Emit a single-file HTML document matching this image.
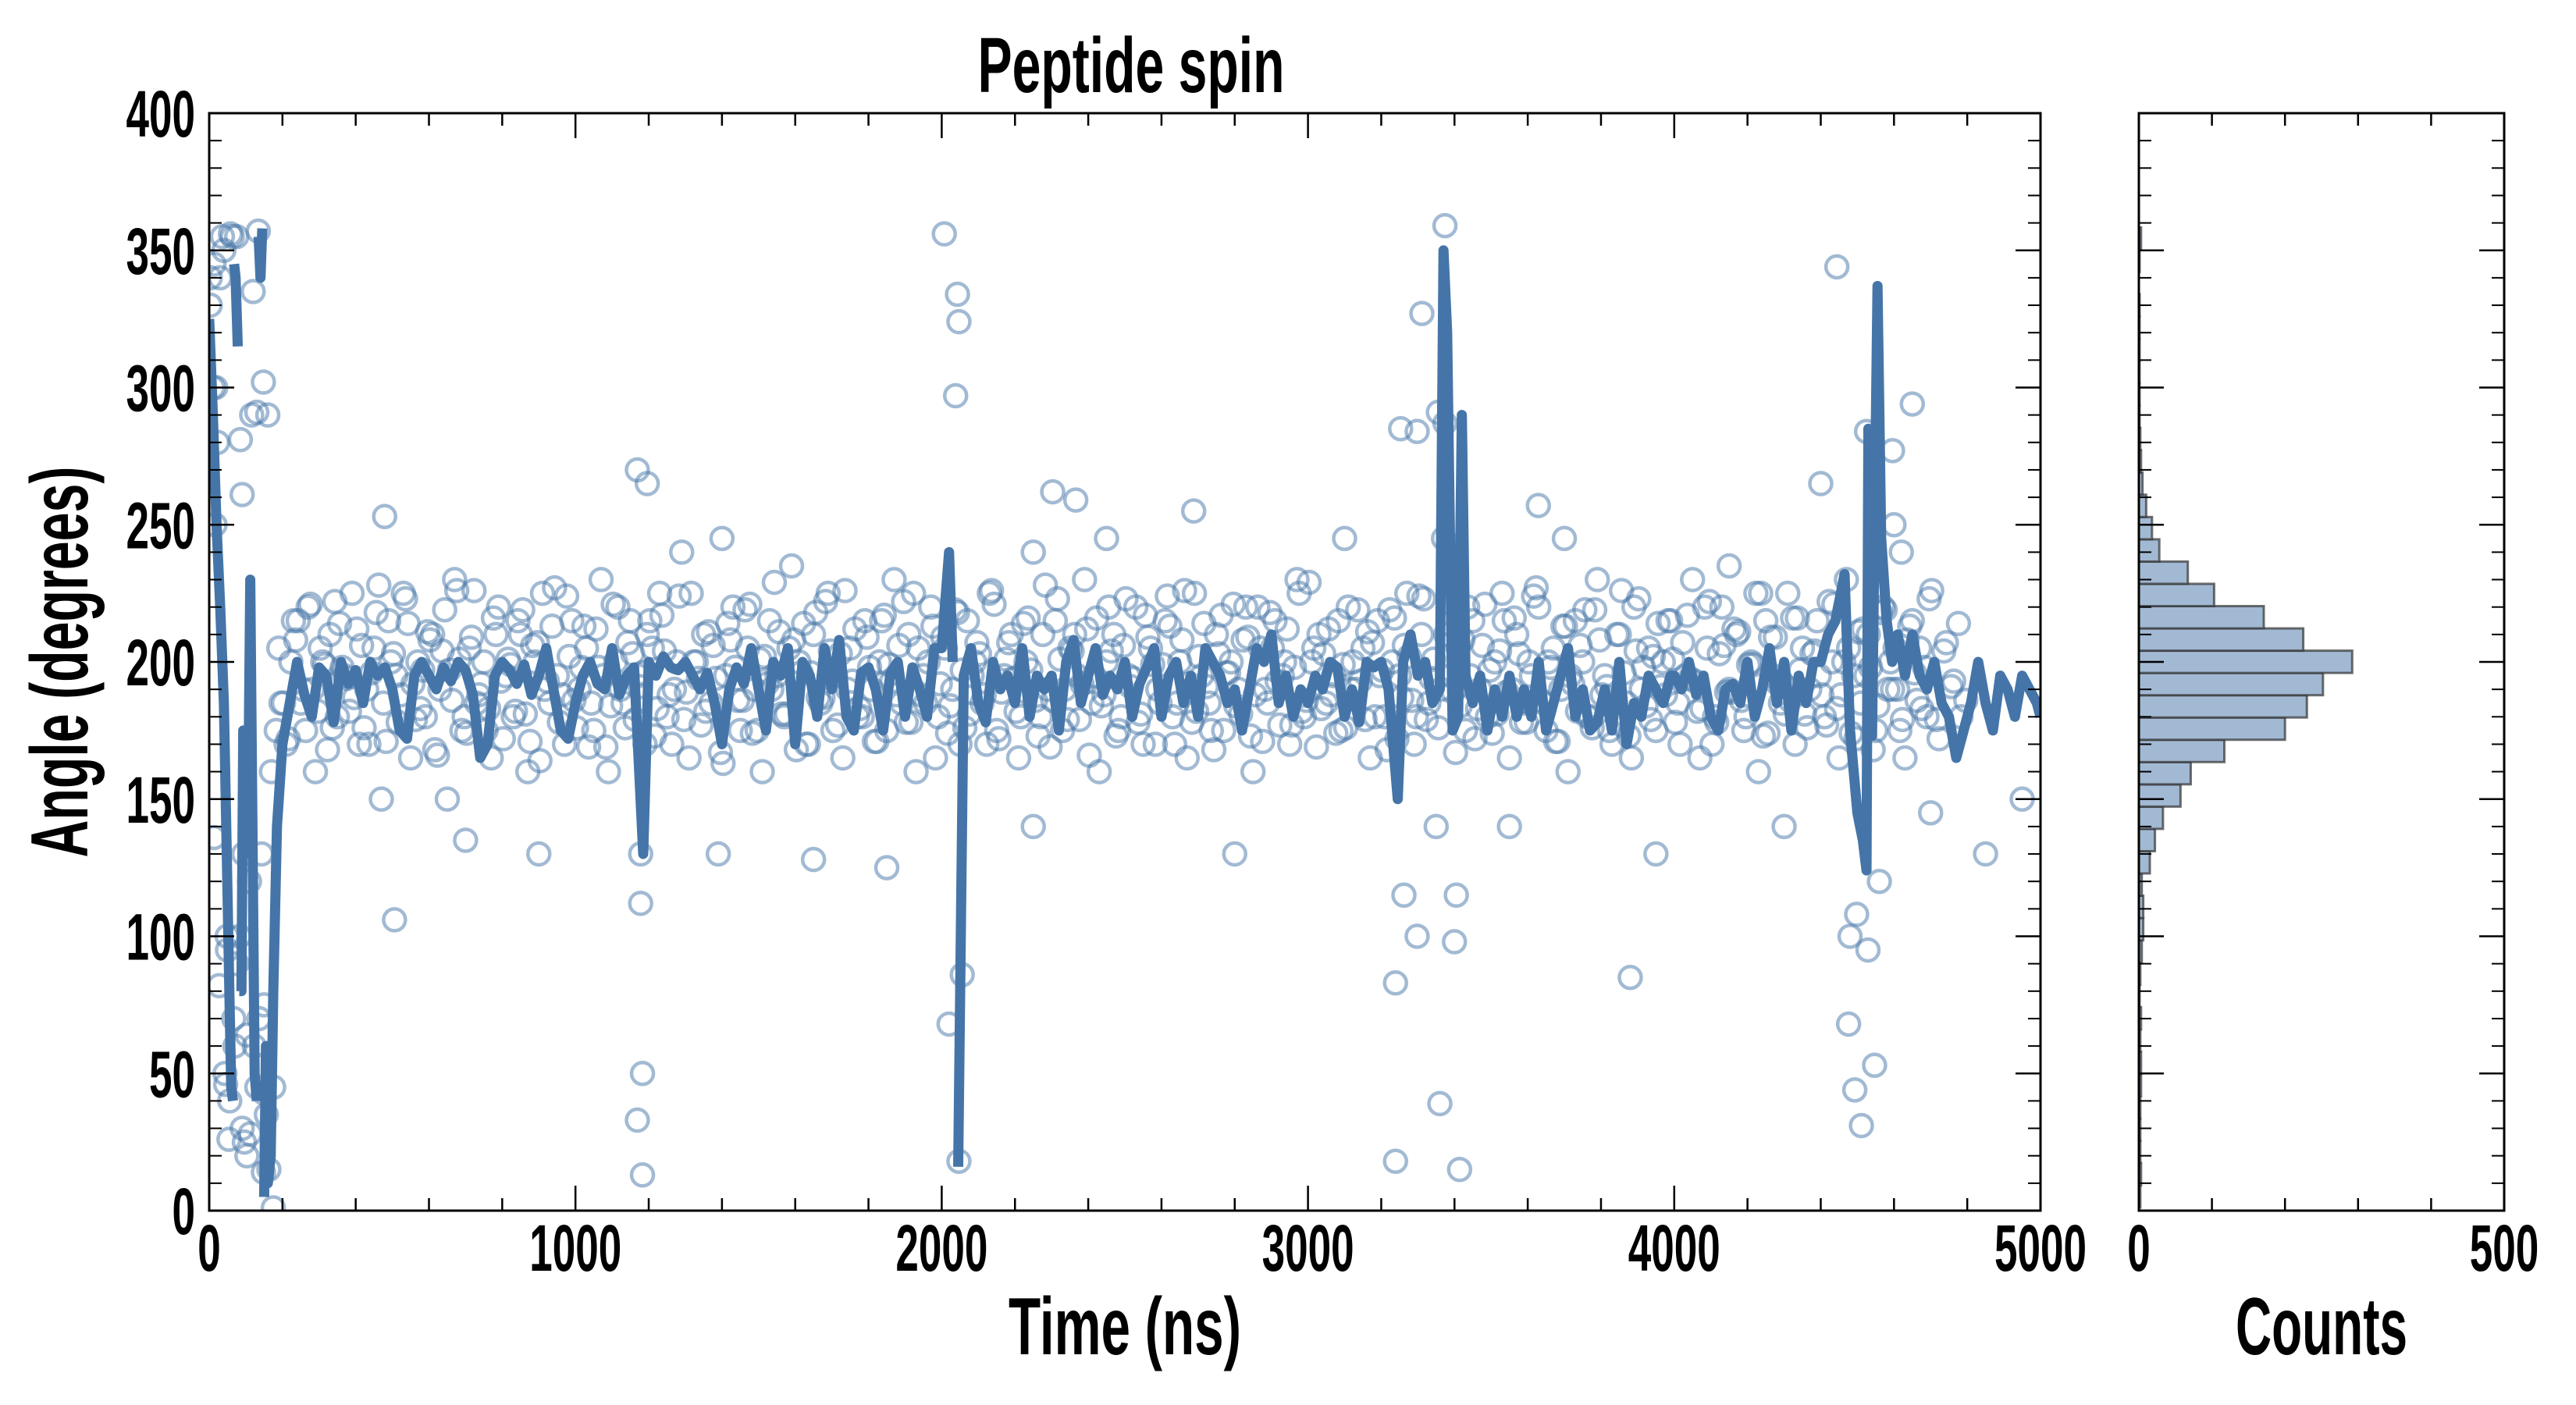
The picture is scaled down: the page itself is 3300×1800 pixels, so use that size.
<!DOCTYPE html>
<html><head><meta charset="utf-8"><style>
html,body{margin:0;padding:0;background:#fff;}
svg{display:block;}
text{font-family:"Liberation Sans Narrow","Liberation Sans",sans-serif;font-weight:bold;fill:#000;}
</style></head><body>
<svg id="chart" width="3300" height="1800" viewBox="0 0 3300 1800" xmlns="http://www.w3.org/2000/svg">
<rect width="3300" height="1800" fill="#fff"/>
<g id="main-marks"></g>
<g id="hist-marks"></g>
<g id="axes"></g>
<text x="1449" y="118" font-size="100" text-anchor="middle" textLength="393" lengthAdjust="spacingAndGlyphs">Peptide spin</text>
<text x="1441" y="1735" font-size="104" text-anchor="middle" textLength="298" lengthAdjust="spacingAndGlyphs">Time (ns)</text>
<text x="2974" y="1735" font-size="104" text-anchor="middle" textLength="220" lengthAdjust="spacingAndGlyphs">Counts</text>
<text transform="translate(112,848) rotate(-90)" x="0" y="0" font-size="104" text-anchor="middle" textLength="501" lengthAdjust="spacingAndGlyphs">Angle (degrees)</text>
</svg>
<script>
// ---- data ----
const linePoints = [[0,325],[10,290],[20,250],[30,220],[40,185],[48,130],[55,80],[60,45],[65,40],[68,345],[72,340],[78,315],[82,80],[88,80],[93,175],[100,130],[106,140],[112,230],[118,140],[124,50],[130,40],[135,355],[140,340],[145,358],[150,5],[155,60],[160,10],[168,20],[175,80],[185,140],[200,170],
[220,185],[240,200],[260,188],[280,180],[300,198],[320,195],[340,178],[360,200],[380,192],
[400,197],[420,185],[440,200],[460,195],[480,198],[500,190],[520,175],[540,172],[560,195],[580,200],
[600,195],[620,190],[640,198],[660,193],[680,200],[700,197],[720,188],[740,165],[760,170],[780,195],
[800,200],[820,197],[840,192],[860,199],[880,188],[900,195],[920,205],[940,190],[960,175],[980,172],
[1000,185],[1020,195],[1040,200],[1060,192],[1080,190],[1100,205],[1120,188],[1140,195],[1160,198],[1185,130],
[1200,200],[1220,195],[1240,202],[1260,198],[1280,197],[1300,200],[1320,195],[1340,190],[1360,196],[1380,185],
[1400,170],[1420,190],[1440,198],[1460,192],[1480,205],[1500,190],[1520,175],[1540,200],[1560,195],[1580,205],
[1600,170],[1620,200],[1640,195],[1660,180],[1680,205],[1700,190],[1720,208],[1740,180],[1760,175],[1780,196],
[1800,198],[1820,190],[1840,175],[1860,196],[1880,200],[1900,180],[1920,198],[1940,190],[1960,180],[1980,205],
[2000,205],[2020,240],[2030,200],[2045,16],[2060,195],[2080,205],[2100,185],[2120,178],[2140,200],[2160,190],[2180,195],
[2200,185],[2220,205],[2240,180],[2260,195],[2280,190],[2300,195],[2320,175],[2340,200],[2360,208],[2380,185],
[2400,195],[2420,205],[2440,188],[2460,195],[2480,190],[2500,200],[2520,180],[2540,192],[2560,198],[2580,205],
[2600,180],[2620,195],[2640,200],[2660,185],[2680,195],[2700,180],[2720,205],[2740,200],[2760,195],[2780,185],
[2800,190],[2820,175],[2840,190],[2860,205],[2880,200],[2900,210],[2920,185],[2940,195],[2960,180],[2980,190],
[3000,185],[3020,195],[3040,190],[3060,200],[3080,198],[3100,180],[3120,190],[3140,178],[3160,200],[3180,198],
[3200,200],[3220,190],[3245,150],[3260,200],[3280,210],[3300,195],[3320,200],[3340,185],[3360,190],[3370,350],[3380,320],[3395,175],[3410,180],[3420,290],[3430,195],[3450,185],[3470,195],[3490,175],
[3510,190],[3530,180],[3550,195],[3570,180],[3590,190],[3610,180],[3630,200],[3650,175],[3670,185],[3690,195],[3710,205],[3730,180],[3750,190],[3770,175],[3790,178],[3810,190],[3830,175],[3850,200],[3870,170],[3890,185],[3910,180],[3930,195],[3950,190],[3970,185],[3990,195],
[4000,195],[4020,190],[4040,200],[4060,188],[4080,195],[4100,180],[4120,175],[4140,190],[4160,192],[4180,185],
[4200,200],[4220,180],[4240,190],[4260,205],[4280,185],[4300,200],[4320,175],[4340,195],[4360,185],[4380,200],
[4400,200],[4420,210],[4440,215],[4465,232],[4480,175],[4500,145],[4515,135],[4525,124],[4530,285],[4540,173],[4555,337],[4565,245],[4580,215],[4595,200],[4610,210],[4630,195],[4650,210],[4670,195],[4690,190],[4710,200],[4730,185],[4750,180],[4770,165],[4790,175],[4810,185],[4830,200],[4850,185],[4870,175],[4890,195],[4910,190],[4930,180],[4950,195],[4970,190],[4990,185],[5000,180]];

const scatterStep = 20;
const scatterStart = 10;
const scatterValues = [
300,340,95,60,30,120,45,75,160,205,170,215,185,220,160,200,210,180,195,225,170,190,205,150,215,
195,225,165,200,180,210,190,150,230,175,205,185,200,165,220,195,180,210,160,200,225,185,195,170,215,
190,205,175,230,160,200,185,215,195,170,205,225,180,190,240,165,200,210,185,130,195,220,175,205,190,
160,215,195,180,235,200,170,210,185,225,195,165,205,180,215,190,200,175,230,185,210,160,195,220,180,
205,190,170,215,200,185,225,175,195,210,165,200,240,180,190,215,175,205,195,230,185,160,200,210,180,
195,220,170,205,190,215,180,200,165,225,195,185,210,175,200,190,220,160,205,185,215,195,170,230,180,
200,210,185,195,175,220,190,205,165,215,180,200,195,225,170,210,185,140,245,195,205,175,215,190,180,
200,225,165,210,185,195,220,175,205,190,160,215,200,180,230,195,170,210,185,220,190,205,175,200,215,
185,195,230,165,205,180,220,190,210,175,200,160,215,195,185,225,170,205,190,215,180,200,165,230,195,
185,210,175,220,200,190,165,215,205,180
];
const scatterStart2 = 3;
const scatterValues2 = [
340,280,50,355,100,20,60,130,15,175,185,200,215,175,190,205,168,222,198,182,
212,176,196,228,171,203,188,214,179,197,208,166,219,186,201,174,226,192,183,210,
172,199,215,181,206,164,193,227,188,202,176,213,185,198,169,221,190,207,179,196,
215,183,204,170,224,189,200,177,211,194,163,208,186,219,174,201,192,229,181,205,
168,214,196,187,222,175,203,190,212,180,198,171,217,193,206,178,225,188,200,165,
209,184,218,176,195,203,170,221,189,207,182,214,197,173,228,186,201,179,210,192,
166,216,188,204,175,223,194,181,209,170,199,213,185,226,178,202,191,168,217,196,
184,208,173,220,190,205,177,212,198,182,229,169,203,188,215,176,200,193,211,180,
197,219,172,206,186,224,179,201,190,214,167,208,195,183,221,174,204,189,216,178,
200,227,185,198,171,213,192,206,180,219,188,175,210,196,165,223,184,202,191,215,
178,207,194,182,220,170,203,189,212,186,199,225,173,209,192,181,216,197,176,204,
188,222,183,200,174,211,195,168,218,190,205,179,213,186,198,226,172,207,193,180
];
const scatterStart3 = 16;
const scatterValues3 = [
250,355,40,90,25,290,70,35,45,185,172,208,190,221,182,199,176,214,194,187,
206,170,218,185,200,178,223,192,183,211,168,204,197,226,180,209,188,175,216,193,
201,182,219,171,207,190,213,178,224,186,198,169,212,195,184,220,176,203,191,210,
173,217,188,200,179,225,194,182,206,167,214,198,186,221,175,202,190,211,181,208,
196,170,218,187,204,177,226,193,183,209,171,215,199,188,222,178,205,185,213,192,
174,219,197,181,207,188,226,172,201,194,180,216,186,210,169,223,190,204,179,212,
195,184,220,173,206,191,178,217,199,185,224,170,208,192,182,214,175,203,196,221,
181,209,188,171,218,193,200,177,225,186,205,183,212,174,199,190,219,179,207,195,
168,216,187,202,180,223,194,176,210,189,184,220,172,206,197,181,215,190,203,178,
224,186,200,171,213,195,182,219,176,208,191,185,226,173,204,198,179,214,188,201,
170,217,193,183,222,178,206,189,211,180,199,225,174,209,192,186,216,181,203,195,
177,221,188,205,172,212,198,184,219,190,175,208,196,183,223,179,204,191,214,186
];

const outlierT = [2007,2043,2047,2038,2020,2056,2047,1169,1196,1178,1178,1183,1169,1183,479,506,2303,2366,2688,3374,3311,3253,3298,3356,3374,3262,3298,3405,3400,3239,3239,3360,3414,3880,3629,4444,4525,4596,4650,4400,4480,4498,4529,4476,4493,4547,4511,13,58,134,148,130,85,90,49,27,67,103,45,148,112,54,148,175,13,94,3,18,40,75,120,160,700,900,1400,1650,1850,2250,2450,2800,3100,3550,3700,3950,4150,4300,4700,4850,4950,4600,4560,4620];
const outlierY = [356,334,324,297,68,86,18,270,265,130,112,50,33,13,253,106,262,259,255,359,327,285,284,291,287,115,100,115,98,83,18,39,15,85,257,344,284,277,294,265,100,108,95,68,44,53,31,345,356,357,302,291,281,261,100,82,70,64,46,43,28,26,14,1,136,130,330,300,350,355,335,290,135,130,245,128,125,140,245,130,245,140,245,130,235,140,145,130,150,250,120,240];

const histStart = 1.1;
const histWidth = 8.12;
const histCounts = [2,3,2,2,2,3,3,2,3,1,2,4,6,6,4,15,22,33,57,71,117,200,230,252,292,225,171,103,67,28,18,10,5,3,2,1,1,1,1,1,1,0,1,3];

const xTicks = [0,1000,2000,3000,4000,5000];
const yTicks = [0,50,100,150,200,250,300,350,400];
const histTicks = [0,500];

// ---- geometry ----
const PL=268, PR=2614, PT=145, PB=1551, HL=2740, HR=3208;
const xScale = t => PL + (t/5000)*(PR-PL);
const yScale = v => PB - (v/400)*(PB-PT);
const hScale = c => HL + (c/500)*(HR-HL);
const NS = "http://www.w3.org/2000/svg";
function mk(tag, attrs, parent){ const e=document.createElementNS(NS,tag); for(const k in attrs) e.setAttribute(k,attrs[k]); parent.appendChild(e); return e; }

const main = document.getElementById('main-marks');
const clip = mk('clipPath',{id:'pclip'},document.getElementById('chart'));
mk('rect',{x:PL,y:PT,width:PR-PL,height:PB-PT},clip);
main.setAttribute('clip-path','url(#pclip)');

// scatter
const scat = mk('g',{fill:'none',stroke:'#4575a8','stroke-opacity':'0.5','stroke-width':'4.5'},main);


function addPt(t,v){
  const c = mk('circle',{cx:xScale(t),cy:yScale(v),r:14},scat);
  
  
}
scatterValues.forEach((v,i)=>addPt(scatterStart+i*scatterStep,v));
scatterValues2.forEach((v,i)=>addPt(scatterStart2+i*scatterStep,v));
scatterValues3.forEach((v,i)=>addPt(scatterStart3+i*scatterStep,v));
outlierT.forEach((t,i)=>addPt(t,outlierY[i]));

// line (break at wraparound jumps)
let d='', prev=null;
linePoints.forEach(p=>{
  const x=xScale(p[0]), y=yScale(p[1]);
  if(prev===null || Math.abs(p[1]-prev)>180) d+='M'+x.toFixed(1)+' '+y.toFixed(1);
  else d+='L'+x.toFixed(1)+' '+y.toFixed(1);
  prev=p[1];
});
const line = mk('path',{d:d,fill:'none',stroke:'#4575a8','stroke-width':'13','stroke-linejoin':'round','stroke-linecap':'butt'},main);



// histogram
const hist = document.getElementById('hist-marks');
histCounts.forEach((c,i)=>{
  if(c<=0) return;
  const lo=histStart+i*histWidth, hi=lo+histWidth;
  const r = mk('rect',{x:HL,y:yScale(hi),width:hScale(c)-HL,height:yScale(lo)-yScale(hi),fill:'#a2b9d3',stroke:'#333','stroke-opacity':'0.7','stroke-width':'3'},hist);
  
  
});

// axes
const axes = document.getElementById('axes');
function frame(l,r,name){
  const f = mk('rect',{x:l,y:PT,width:r-l,height:PB-PT,fill:'none',stroke:'#000','stroke-width':'3'},axes);
  
  
}
frame(PL,PR,'main-plot-frame');
frame(HL,HR,'histogram-frame');
function tick(x1,y1,x2,y2,w){ const t=mk('line',{x1:x1,y1:y1,x2:x2,y2:y2,stroke:'#000','stroke-width':w},axes);   }
for(let v=0; v<=400; v+=10){
  const y=yScale(v), L=(v%50===0)?32:16, w=(v%50===0)?2.5:2;
  tick(PL,y,PL+L,y,w); tick(PR,y,PR-L,y,w);
  tick(HL,y,HL+L,y,w); tick(HR,y,HR-L,y,w);
}
for(let t=0; t<=5000; t+=200){
  const x=xScale(t), L=(t%1000===0)?32:16;
  tick(x,PB,x,PB-L,2.5); tick(x,PT,x,PT+L,2.5);
}
for(let c=0; c<=500; c+=100){
  const x=hScale(c), L=(c%500===0)?32:16;
  tick(x,PB,x,PB-L,2.5); tick(x,PT,x,PT+L,2.5);
}
yTicks.forEach(v=>{
  const t = mk('text',{x:250,y:yScale(v)+30,'font-size':84,'text-anchor':'end'},axes);
  t.textContent=String(v);
  t.setAttribute('textLength', String(v).length*29.5);
  t.setAttribute('lengthAdjust','spacingAndGlyphs');
  
  
});
xTicks.forEach(v=>{
  const t = mk('text',{x:xScale(v),y:1628,'font-size':84,'text-anchor':'middle'},axes);
  t.textContent=String(v);
  t.setAttribute('textLength', String(v).length*29.5);
  t.setAttribute('lengthAdjust','spacingAndGlyphs');
  
  
});
histTicks.forEach(v=>{
  const t = mk('text',{x:hScale(v),y:1628,'font-size':84,'text-anchor':'middle'},axes);
  t.textContent=String(v);
  t.setAttribute('textLength', String(v).length*29.5);
  t.setAttribute('lengthAdjust','spacingAndGlyphs');
  
  
});
</script>
</body></html>
